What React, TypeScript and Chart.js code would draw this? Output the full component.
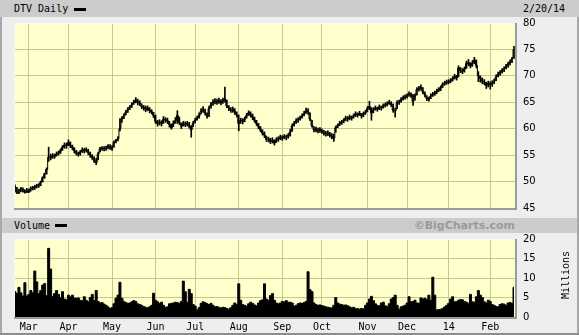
import React, { useEffect, useRef } from 'react';
import { Chart, registerables } from 'chart.js';

Chart.register(...registerables);

const monthLabels = ['Mar', 'Apr', 'May', 'Jun', 'Jul', 'Aug', 'Sep', 'Oct', 'Nov', 'Dec', '14', 'Feb'];
const monthStartIdx = [7, 27, 49, 71, 91, 113, 135, 155, 178, 198, 219, 240];
const priceTicks = [45, 50, 55, 60, 65, 70, 75, 80];
const volumeTicks = [0, 5, 10, 15, 20];

const closes = [
  49.0, 48.0, 47.9, 48.6, 48.4, 48.0, 48.2, 48.1, 48.7, 48.8,
  48.9, 49.2, 49.3, 49.9, 50.8, 51.5, 52.3, 54.6, 54.5, 54.9,
  54.8, 55.2, 55.4, 55.8, 56.5, 56.9, 56.8, 57.4, 56.8, 56.5,
  55.8, 55.4, 55.2, 55.6, 56.0, 55.8, 56.0, 55.5, 55.0, 54.6,
  54.0, 53.6, 55.2, 56.2, 56.3, 56.2, 56.3, 56.7, 56.5, 56.3,
  57.4, 57.7, 58.1, 60.0, 61.9, 62.4, 63.1, 63.6, 64.1, 64.5,
  65.0, 65.4, 65.0, 64.9, 64.2, 64.0, 63.7, 63.9, 63.5, 63.2,
  62.5, 61.4, 61.0, 61.2, 61.0, 61.8, 61.7, 61.5, 60.8, 60.2,
  61.0, 61.5, 62.5, 61.2, 60.5, 61.0, 60.8, 61.0, 60.5, 59.8,
  61.0, 61.6, 62.0, 62.5, 63.3, 63.6, 63.0, 62.4, 63.8, 64.5,
  65.0, 65.2, 65.0, 65.3, 65.0, 65.3, 65.6, 64.3, 63.9, 63.5,
  63.6, 63.2, 62.6, 61.0, 61.6, 61.4, 61.8, 62.5, 63.0, 62.6,
  62.2, 61.6, 61.0, 60.4, 59.8, 59.2, 58.8, 58.0, 58.0, 57.6,
  57.8, 57.3, 57.9, 58.1, 58.4, 58.2, 58.5, 58.4, 58.7, 59.4,
  60.5, 61.0, 61.5, 61.7, 62.0, 62.4, 62.8, 63.4, 63.2, 61.8,
  60.6, 59.8, 59.9, 59.6, 59.8, 59.5, 59.2, 59.0, 59.2, 58.8,
  58.6, 58.2, 60.2, 60.6, 61.0, 61.2, 61.5, 62.0, 61.9, 62.2,
  62.0, 62.4, 62.8, 62.6, 62.9, 62.4, 62.8, 63.1, 63.8, 64.2,
  63.0, 63.6, 63.9, 63.7, 64.1, 63.9, 64.3, 64.5, 64.7, 65.0,
  64.6, 63.5, 63.4, 64.9, 65.0, 65.5, 65.8, 66.0, 66.2, 66.6,
  66.4, 65.2, 66.2, 67.4, 67.6, 67.8, 67.0, 66.5, 65.7, 65.6,
  66.2, 66.5, 66.7, 67.1, 67.4, 67.7, 68.4, 68.6, 68.8, 68.9,
  69.1, 69.4, 69.9, 69.6, 71.5, 71.0, 70.9, 71.3, 72.3, 72.5,
  71.9, 72.4, 73.0, 72.0, 70.0, 69.5, 69.0, 68.8, 68.2, 68.6,
  68.3, 68.6, 69.0, 69.8, 70.3, 70.6, 71.0, 71.3, 71.8, 72.2,
  72.6, 73.2, 75.0,
];

const highs = [
  49.4, 48.9, 48.6, 48.9, 48.8, 48.5, 48.7, 48.6, 49.0, 49.1,
  49.3, 49.5, 49.6, 50.1, 50.9, 51.6, 52.6, 56.5, 55.2, 55.3,
  55.2, 55.6, 55.8, 56.2, 56.8, 57.3, 57.3, 57.9, 57.5, 56.9,
  56.4, 55.9, 55.6, 55.9, 56.4, 56.3, 56.4, 56.1, 55.6, 55.1,
  54.7, 54.4, 55.6, 56.5, 56.6, 56.6, 56.7, 57.0, 57.0, 56.8,
  57.7, 58.0, 58.5, 61.9, 62.3, 62.8, 63.5, 64.0, 64.4, 64.9,
  65.4, 65.9, 65.6, 65.3, 64.7, 64.4, 64.3, 64.3, 64.0, 63.6,
  63.1, 62.6, 61.6, 61.7, 61.5, 62.3, 62.1, 62.0, 61.4, 60.9,
  61.5, 62.1, 63.4, 62.2, 61.1, 61.4, 61.3, 61.4, 61.2, 60.6,
  61.4, 62.0, 62.4, 63.0, 63.8, 64.2, 63.7, 63.0, 64.3, 65.0,
  65.5, 65.7, 65.6, 65.8, 65.5, 65.8, 67.9, 65.4, 64.4, 64.0,
  64.1, 63.8, 63.2, 62.6, 62.0, 61.9, 62.2, 62.9, 63.4, 63.2,
  62.8, 62.2, 61.6, 61.0, 60.4, 59.8, 59.4, 58.6, 58.4, 58.2,
  58.3, 57.9, 58.3, 58.5, 58.8, 58.7, 58.9, 58.8, 59.1, 59.9,
  60.9, 61.4, 61.9, 62.1, 62.4, 62.8, 63.3, 63.9, 63.8, 63.0,
  61.6, 60.4, 60.3, 60.1, 60.2, 60.0, 59.7, 59.5, 59.6, 59.3,
  59.1, 59.0, 60.5, 60.9, 61.4, 61.6, 61.9, 62.4, 62.3, 62.6,
  62.4, 62.8, 63.2, 63.0, 63.3, 62.9, 63.2, 63.5, 64.2, 65.2,
  64.0, 64.0, 64.3, 64.1, 64.5, 64.3, 64.7, 64.9, 65.1, 65.4,
  65.1, 64.7, 63.9, 65.3, 65.4, 65.9, 66.2, 66.4, 66.6, 67.0,
  66.8, 66.5, 66.6, 67.8, 68.0, 68.3, 67.8, 67.0, 66.2, 66.0,
  66.6, 66.9, 67.1, 67.5, 67.8, 68.1, 68.7, 69.0, 69.2, 69.3,
  69.5, 69.8, 70.3, 70.1, 71.9, 71.6, 71.4, 71.7, 72.8, 73.1,
  72.5, 72.9, 73.5, 73.0, 70.8, 70.0, 69.6, 69.3, 68.8, 69.0,
  68.9, 69.1, 69.4, 70.2, 70.7, 71.0, 71.4, 71.7, 72.2, 72.6,
  73.0, 73.5, 75.6,
];

const lows = [
  48.0, 47.7, 47.7, 48.1, 48.0, 47.8, 47.9, 47.9, 48.2, 48.4,
  48.5, 48.8, 48.9, 49.2, 49.9, 50.6, 51.4, 53.8, 54.1, 54.4,
  54.4, 54.8, 55.0, 55.3, 55.9, 56.3, 56.3, 56.8, 56.4, 56.0,
  55.4, 55.0, 54.8, 55.0, 55.5, 55.4, 55.6, 55.1, 54.6, 54.2,
  53.6, 53.2, 54.1, 55.6, 55.9, 55.8, 55.9, 56.2, 56.1, 55.9,
  56.5, 57.3, 57.7, 59.6, 61.2, 61.9, 62.6, 63.1, 63.6, 64.0,
  64.6, 64.9, 64.5, 64.4, 63.8, 63.5, 63.2, 63.4, 63.0, 62.8,
  62.1, 61.0, 60.5, 60.7, 60.5, 61.0, 61.2, 61.0, 60.3, 59.9,
  60.4, 61.0, 61.0, 60.8, 60.0, 60.5, 60.4, 60.5, 60.1, 58.4,
  60.4, 61.1, 61.6, 62.0, 62.8, 63.1, 62.6, 62.0, 62.3, 63.9,
  64.4, 64.7, 64.6, 64.8, 64.5, 64.8, 65.0, 64.0, 63.4, 63.1,
  63.1, 62.7, 62.2, 59.6, 61.0, 60.9, 61.3, 62.0, 62.5, 62.2,
  61.7, 61.2, 60.6, 60.0, 59.4, 58.8, 58.3, 57.6, 57.5, 57.2,
  57.3, 56.9, 57.4, 57.6, 57.9, 57.8, 58.1, 57.9, 58.2, 58.6,
  59.5, 60.5, 61.0, 61.2, 61.6, 62.0, 62.4, 62.9, 62.7, 61.5,
  60.3, 59.4, 59.4, 59.2, 59.3, 59.1, 58.8, 58.6, 58.7, 58.4,
  58.1, 57.6, 59.3, 60.2, 60.6, 60.8, 61.1, 61.5, 61.4, 61.7,
  61.6, 62.0, 62.3, 62.2, 62.5, 62.0, 62.3, 62.7, 63.2, 63.6,
  61.6, 63.0, 63.5, 63.3, 63.6, 63.5, 63.9, 64.1, 64.3, 64.6,
  64.2, 63.1, 62.2, 63.8, 64.6, 65.0, 65.4, 65.6, 65.8, 66.1,
  65.9, 64.4, 65.4, 66.4, 67.1, 67.3, 66.6, 66.0, 65.3, 65.2,
  65.7, 66.1, 66.3, 66.6, 67.0, 67.2, 67.8, 68.2, 68.4, 68.5,
  68.7, 69.0, 69.4, 69.2, 69.8, 70.6, 70.4, 70.7, 71.4, 71.9,
  71.5, 71.8, 72.3, 71.5, 68.9, 68.8, 68.5, 68.3, 67.6, 67.9,
  67.5, 68.0, 68.5, 69.1, 69.8, 70.1, 70.5, 70.8, 71.3, 71.6,
  72.0, 72.5, 73.3,
];

const volumes = [
  6.5, 6.0, 7.6, 6.2, 5.4, 8.8, 5.4, 5.8, 6.8, 6.2,
  11.8, 9.0, 6.0, 6.8, 8.2, 8.6, 5.5, 17.6, 12.3, 5.3,
  6.0, 6.8, 5.8, 5.0, 6.5, 4.6, 4.4, 5.6, 5.2, 5.6,
  4.9, 4.8, 4.9, 4.3, 4.2, 5.2, 4.3, 3.9, 5.0, 5.8,
  4.2, 6.8, 4.0, 3.6, 3.7, 3.3, 3.0, 2.6, 2.2, 2.4,
  3.4, 4.8, 5.6, 8.9, 4.8, 4.0, 3.7, 3.5, 3.6, 3.9,
  4.2, 4.0, 3.4, 3.2, 3.0, 2.7, 2.5, 2.4, 2.6, 3.0,
  6.1, 4.3, 3.9, 3.5, 3.8, 3.0, 2.5, 2.6, 3.4, 3.5,
  3.6, 3.8, 3.7, 3.5, 4.0, 9.2, 6.5, 3.8, 7.1, 6.0,
  3.2, 2.8, 1.8, 2.4, 3.5, 3.9, 3.7, 3.4, 3.2, 3.5,
  3.0, 2.6, 2.7, 2.5, 2.3, 2.5, 2.4, 2.2, 2.0, 2.4,
  3.0, 3.6, 3.2, 8.5, 4.3, 3.2, 3.0, 2.8, 3.4, 3.8,
  3.5, 3.1, 2.9, 3.6, 4.2, 4.4, 8.5, 4.6, 4.3, 5.5,
  6.0, 4.3, 3.6, 3.4, 3.6, 4.0, 3.9, 4.2, 3.8, 3.8,
  3.6, 2.8, 3.0, 3.4, 3.6, 3.5, 3.7, 4.0, 11.6, 7.0,
  6.5, 3.6, 3.2, 3.0, 3.1, 2.9, 2.8, 2.6, 2.5, 2.4,
  2.3, 3.0, 5.0, 3.6, 3.3, 3.2, 3.0, 3.1, 2.9, 2.6,
  2.4, 2.5, 2.2, 2.2, 2.0, 2.2, 2.1, 3.0, 3.6, 4.6,
  5.3, 4.2, 3.4, 3.0, 2.9, 3.6, 3.8, 2.9, 2.7, 3.4,
  4.6, 5.0, 5.6, 3.0, 2.0, 2.6, 2.8, 3.0, 3.6, 5.2,
  3.9, 4.0, 4.3, 3.6, 3.5, 4.9, 4.6, 4.8, 4.5, 5.6,
  4.3, 10.2, 5.6, 1.8, 1.9, 2.0, 2.2, 2.6, 3.0, 3.5,
  4.6, 5.2, 3.9, 4.0, 4.3, 4.5, 4.4, 4.0, 3.8, 3.5,
  5.8, 3.9, 3.8, 5.2, 6.8, 5.6, 5.0, 3.9, 3.6, 4.3,
  4.0, 3.2, 3.0, 2.7, 2.6, 3.2, 3.4, 3.3, 3.0, 3.6,
  3.7, 3.5, 7.6,
];

const GRID = '#c6c68f';
const PLOT_BG = '#ffffcc';
const MONO = '"DejaVu Sans Mono", monospace';
const SANS = '"DejaVu Sans", sans-serif';

const panelPlugin = {
  id: 'panel',
  beforeDraw(chart: any) {
    const { ctx, chartArea: a } = chart;
    ctx.save();
    ctx.fillStyle = PLOT_BG;
    ctx.fillRect(a.left, a.top, a.right - a.left, a.bottom - a.top);
    ctx.restore();
  },
  afterDraw(chart: any) {
    const { ctx, chartArea: a } = chart;
    ctx.save();
    ctx.strokeStyle = '#f8f8f8';
    ctx.lineWidth = 1;
    ctx.beginPath();
    ctx.moveTo(a.left + 0.5, a.bottom);
    ctx.lineTo(a.left + 0.5, a.top + 0.5);
    ctx.lineTo(a.right, a.top + 0.5);
    ctx.stroke();
    ctx.strokeStyle = '#9a9a9a';
    ctx.lineWidth = 2;
    ctx.beginPath();
    ctx.moveTo(a.right + 1, a.top);
    ctx.lineTo(a.right + 1, a.bottom + 1);
    ctx.lineTo(a.left, a.bottom + 1);
    ctx.stroke();
    ctx.restore();
  },
};

function xScale(showLabels: boolean) {
  return {
    type: 'linear',
    min: -0.5,
    max: 252.5,
    offset: false,
    afterBuildTicks: (s: any) => {
      s.ticks = monthStartIdx.map((v) => ({ value: v }));
    },
    grid: { color: GRID, lineWidth: 1, drawTicks: false, offset: false },
    border: { display: false },
    ticks: {
      display: showLabels,
      autoSkip: false,
      maxRotation: 0,
      padding: 4,
      color: '#000',
      font: { family: MONO, size: 10 },
      callback: (_v: any, i: number) => monthLabels[i],
    },
    afterFit: (s: any) => {
      s.height = showLabels ? 16 : 0;
      s.paddingLeft = 0;
      s.paddingRight = 0;
    },
  };
}

function yScale(min: number, max: number, ticks: number[]) {
  return {
    type: 'linear',
    position: 'right',
    min,
    max,
    afterBuildTicks: (s: any) => {
      s.ticks = ticks.map((v) => ({ value: v }));
    },
    grid: { color: GRID, lineWidth: 1, drawTicks: false },
    border: { display: false },
    ticks: { padding: 8, color: '#000', font: { family: SANS, size: 10 } },
    afterFit: (s: any) => {
      s.width = 64;
      s.paddingTop = 0;
      s.paddingBottom = 0;
    },
  };
}

export default function App() {
  const priceRef = useRef<HTMLCanvasElement>(null);
  const volRef = useRef<HTMLCanvasElement>(null);

  useEffect(() => {
    const idx = closes.map((_, i) => i);
    const common: any = {
      responsive: false,
      animation: false,
      events: [],
      plugins: { legend: { display: false }, tooltip: { enabled: false } },
    };
    const price = new Chart(priceRef.current as HTMLCanvasElement, {
      type: 'line',
      data: {
        datasets: [
          {
            type: 'bar',
            data: idx.map((i) => ({ x: i, y: [lows[i], highs[i]] })),
            backgroundColor: '#000',
            borderWidth: 0,
            barThickness: 1,
            grouped: false,
          } as any,
          {
            type: 'line',
            data: idx.map((i) => ({ x: i, y: closes[i] })),
            borderColor: '#000',
            borderWidth: 1,
            pointRadius: 0,
            stepped: 'middle',
          } as any,
        ],
      },
      options: {
        ...common,
        layout: { padding: { left: 14, top: 6, bottom: 8, right: 0 } },
        scales: { x: xScale(false), y: yScale(45, 80, priceTicks) } as any,
      },
      plugins: [panelPlugin],
    });
    const vol = new Chart(volRef.current as HTMLCanvasElement, {
      type: 'line',
      data: {
        datasets: [
          {
            data: idx.map((i) => ({ x: i, y: volumes[i] })),
            borderColor: '#000',
            backgroundColor: '#000',
            borderWidth: 1,
            pointRadius: 0,
            stepped: 'middle',
            fill: 'origin',
          } as any,
        ],
      },
      options: {
        ...common,
        layout: { padding: { left: 14, top: 6, bottom: 0, right: 0 } },
        scales: { x: xScale(true), y: yScale(0, 20, volumeTicks) } as any,
      },
      plugins: [panelPlugin],
    });
    return () => {
      price.destroy();
      vol.destroy();
    };
  }, []);

  const bar: React.CSSProperties = {
    position: 'absolute',
    left: 2,
    width: 575,
    background: '#cccccc',
  };
  const txt: React.CSSProperties = {
    position: 'absolute',
    fontFamily: MONO,
    fontSize: 10,
    color: '#000',
    lineHeight: '12px',
    whiteSpace: 'nowrap',
  };

  return (
    <div
      style={{
        position: 'absolute',
        left: 0,
        top: 0,
        width: 579,
        height: 335,
        background: '#eeeeee',
        overflow: 'hidden',
      }}
    >
      <div style={{ ...bar, left: 0, width: 579, top: 0, height: 17 }} />
      <div style={{ position: 'absolute', left: 0, top: 17, width: 2, height: 318, background: '#a8a8a8' }} />
      <div style={{ position: 'absolute', right: 0, top: 17, width: 2, height: 318, background: '#a8a8a8' }} />
      <div style={{ position: 'absolute', left: 0, top: 333, width: 579, height: 2, background: '#8c8c8c' }} />
      <div style={{ ...txt, left: 14, top: 3 }}>DTV Daily</div>
      <div style={{ position: 'absolute', left: 74, top: 8, width: 12, height: 3, background: '#000' }} />
      <div style={{ ...txt, left: 523, top: 3 }}>2/20/14</div>

      <canvas
        ref={priceRef}
        width={579}
        height={199}
        style={{ position: 'absolute', left: 0, top: 17, width: 579, height: 199 }}
      />

      <div style={{ ...bar, top: 218, height: 15 }} />
      <div style={{ ...txt, left: 14, top: 220 }}>Volume</div>
      <div style={{ position: 'absolute', left: 55, top: 224, width: 12, height: 3, background: '#000' }} />
      <div
        style={{
          position: 'absolute',
          right: 64,
          top: 219,
          fontFamily: SANS,
          fontWeight: 'bold',
          fontSize: 11,
          lineHeight: '13px',
          color: '#9a9a9a',
          whiteSpace: 'nowrap',
        }}
      >
        ©BigCharts.com
      </div>

      <canvas
        ref={volRef}
        width={579}
        height={100}
        style={{ position: 'absolute', left: 0, top: 233, width: 579, height: 100 }}
      />

      <div
        style={{
          ...txt,
          left: 536,
          top: 269,
          width: 60,
          height: 12,
          textAlign: 'center',
          transform: 'rotate(-90deg)',
        }}
      >
        Millions
      </div>
    </div>
  );
}
